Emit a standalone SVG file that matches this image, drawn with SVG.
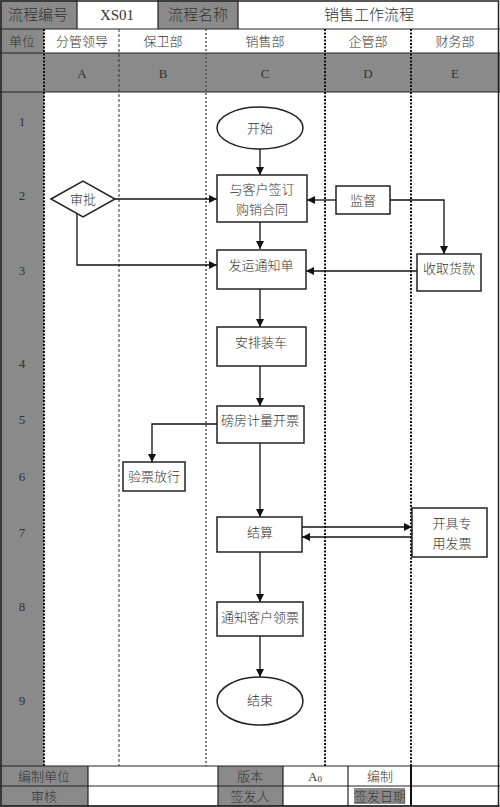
<svg xmlns="http://www.w3.org/2000/svg" width="500" height="807" viewBox="0 0 500 807">
<style>
.g{fill:#8a8a8a}
.cell{fill:none;stroke:#222;stroke-width:1.2}
.t{font-family:"Liberation Serif","Noto Sans CJK SC",serif;font-size:13px;font-weight:300;fill:#333;text-anchor:middle;dominant-baseline:central}
.th{font-size:15px}
.n{fill:#fff;stroke:#222;stroke-width:1.5}
.c{fill:none;stroke:#111;stroke-width:1.3}
.a{marker-end:url(#ar)}
.d1{stroke:#111;stroke-width:2;stroke-dasharray:2 1.5}
.d2{stroke:#333;stroke-width:1;stroke-dasharray:3 2}
.d3{stroke:#555;stroke-width:1.5;stroke-dasharray:2 2}
</style>
<defs>
<marker id="ar" viewBox="0 0 10 10" refX="10" refY="5" markerWidth="8" markerHeight="8" markerUnits="userSpaceOnUse" orient="auto">
<path d="M0,0 L10,5 L0,10 z" fill="#111"/>
</marker>
</defs>
<rect x="0" y="0" width="500" height="807" fill="#fff"/>
<g id="header">
<rect class="g" x="0" y="0" width="77" height="29"/>
<rect class="g" x="158" y="0" width="80" height="29"/>
<rect class="g" x="0" y="29" width="44" height="24"/>
<rect class="g" x="0" y="53" width="500" height="39"/>
<rect class="g" x="0" y="92" width="44" height="674"/>
<line class="cell" x1="0" y1="29" x2="500" y2="29"/>
<line class="cell" x1="0" y1="53" x2="500" y2="53"/>
<line class="cell" x1="0" y1="92" x2="500" y2="92"/>
<line class="cell" x1="77" y1="0" x2="77" y2="29"/>
<line class="cell" x1="158" y1="0" x2="158" y2="29"/>
<line class="cell" x1="238" y1="0" x2="238" y2="29"/>
<text class="t th" x="38" y="15">流程编号</text>
<text class="t th" x="117" y="15">XS01</text>
<text class="t th" x="198" y="15">流程名称</text>
<text class="t th" x="369" y="15">销售工作流程</text>
<text class="t" x="22" y="41">单位</text>
<text class="t" x="82" y="41">分管领导</text>
<text class="t" x="163" y="41">保卫部</text>
<text class="t" x="265" y="41">销售部</text>
<text class="t" x="368" y="41">企管部</text>
<text class="t" x="455" y="41">财务部</text>
<text class="t" x="82" y="73">A</text>
<text class="t" x="163" y="73">B</text>
<text class="t" x="265" y="73">C</text>
<text class="t" x="368" y="73">D</text>
<text class="t" x="455" y="73">E</text>
</g>
<g id="lanes">
<line class="d1" x1="44" y1="29" x2="44" y2="766"/>
<line class="d2" x1="119" y1="29" x2="119" y2="766"/>
<line class="d3" x1="206" y1="29" x2="206" y2="766"/>
<line class="d1" x1="325" y1="29" x2="325" y2="766"/>
<line class="d1" x1="411" y1="29" x2="411" y2="766"/>
<text class="t" x="22" y="121">1</text>
<text class="t" x="22" y="195">2</text>
<text class="t" x="22" y="270">3</text>
<text class="t" x="22" y="363">4</text>
<text class="t" x="22" y="419">5</text>
<text class="t" x="22" y="476">6</text>
<text class="t" x="22" y="532">7</text>
<text class="t" x="22" y="606">8</text>
<text class="t" x="22" y="700">9</text>
</g>
<g id="footer">
<rect class="g" x="0" y="766" width="88" height="40"/>
<rect class="g" x="218" y="766" width="65" height="40"/>
<rect class="g" x="354" y="788" width="51" height="16"/>
<line class="cell" x1="0" y1="766" x2="500" y2="766"/>
<line class="cell" x1="0" y1="786" x2="500" y2="786"/>
<line class="cell" x1="0" y1="806" x2="500" y2="806"/>
<line class="cell" x1="88" y1="766" x2="88" y2="806"/>
<line class="cell" x1="218" y1="766" x2="218" y2="806"/>
<line class="cell" x1="283" y1="766" x2="283" y2="806"/>
<line class="cell" x1="348" y1="766" x2="348" y2="806"/>
<line x1="411" y1="766" x2="411" y2="806" stroke="#111" stroke-width="2"/>
<text class="t" x="44" y="776">编制单位</text>
<text class="t" x="44" y="796">审核</text>
<text class="t" x="250" y="776">版本</text>
<text class="t" x="250" y="796">签发人</text>
<text class="t" x="315" y="776">A<tspan font-size="9" dy="3">0</tspan></text>
<text class="t" x="380" y="776">编制</text>
<text class="t" x="380" y="796">签发日期</text>
</g>
<rect x="1" y="1" width="497.5" height="805" fill="none" stroke="#222" stroke-width="1.5"/>
<g id="connectors">
<line class="c a" x1="260" y1="149" x2="260" y2="175"/>
<line class="c a" x1="115" y1="199" x2="217" y2="199"/>
<polyline class="c a" points="77,214 77,265 217,265"/>
<line class="c a" x1="336" y1="200" x2="307" y2="200"/>
<polyline class="c a" points="390,200 444,200 444,254"/>
<line class="c a" x1="417" y1="271" x2="306" y2="271"/>
<line class="c a" x1="260" y1="222" x2="260" y2="249"/>
<line class="c a" x1="260" y1="289" x2="260" y2="327"/>
<line class="c a" x1="260" y1="366" x2="260" y2="406"/>
<polyline class="c a" points="217,424 152,424 152,462"/>
<line class="c a" x1="260" y1="443" x2="260" y2="517"/>
<line class="c a" x1="302" y1="527" x2="412" y2="527"/>
<line class="c a" x1="412" y1="537" x2="302" y2="537"/>
<line class="c a" x1="260" y1="552" x2="260" y2="602"/>
<line class="c a" x1="260" y1="636" x2="260" y2="677"/>
</g>
<g id="start"><ellipse class="n" cx="260" cy="128" rx="43" ry="21"/><text class="t" x="260" y="128">开始</text></g>
<g id="approve"><polygon class="n" points="51,199 83,181 115,199 83,217"/><text class="t" x="83" y="199">审批</text></g>
<g id="contract"><rect class="n" x="217" y="175" width="90" height="47"/><text class="t" x="262" y="189">与客户签订</text><text class="t" x="262" y="209">购销合同</text></g>
<g id="supervise"><rect class="n" x="336" y="186" width="54" height="28"/><text class="t" x="363" y="200">监督</text></g>
<g id="notice"><rect class="n" x="217" y="250" width="89" height="39"/><text class="t" x="261" y="265">发运通知单</text></g>
<g id="payment"><rect class="n" x="417" y="254" width="64" height="37"/><text class="t" x="449" y="268">收取货款</text></g>
<g id="load"><rect class="n" x="217" y="327" width="89" height="39"/><text class="t" x="261" y="342">安排装车</text></g>
<g id="weigh"><rect class="n" x="217" y="406" width="87" height="37"/><text class="t" x="260" y="420">磅房计量开票</text></g>
<g id="check"><rect class="n" x="123" y="462" width="62" height="29"/><text class="t" x="154" y="476">验票放行</text></g>
<g id="settle"><rect class="n" x="217" y="517" width="85" height="35"/><text class="t" x="260" y="532">结算</text></g>
<g id="invoice"><rect class="n" x="412" y="508" width="75" height="49"/><text class="t" x="452" y="523">开具专</text><text class="t" x="452" y="543">用发票</text></g>
<g id="inform"><rect class="n" x="217" y="602" width="86" height="34"/><text class="t" x="260" y="617">通知客户领票</text></g>
<g id="end"><ellipse class="n" cx="260" cy="701" rx="43" ry="24"/><text class="t" x="260" y="700">结束</text></g>
</svg>
